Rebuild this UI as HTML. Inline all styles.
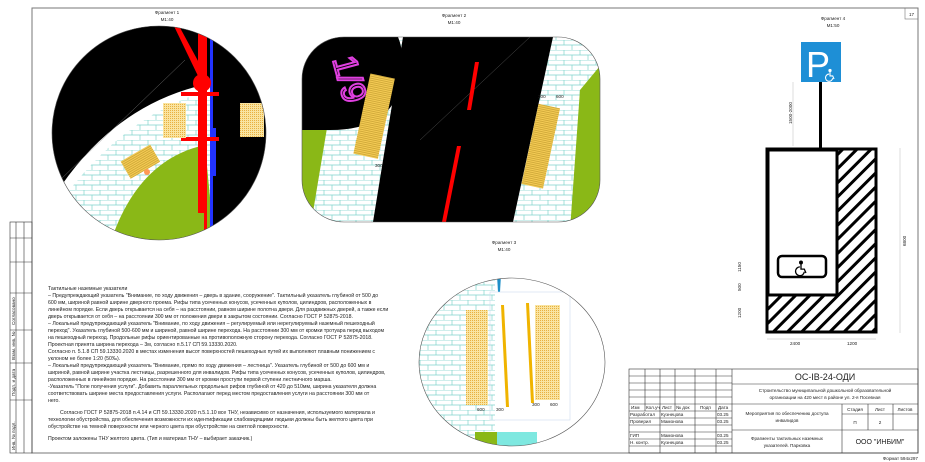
<!DOCTYPE html>
<html><head><meta charset="utf-8"><style>
html,body{margin:0;padding:0;background:#fff;}
svg{display:block;font-family:"Liberation Sans","Noto Sans CJK SC",sans-serif;}
.t{font-size:5.2px;fill:#222;}
.s{font-size:4.6px;fill:#222;}
</style></head><body>
<svg width="925" height="462" viewBox="0 0 925 462" xmlns="http://www.w3.org/2000/svg">
<defs>
<pattern id="tile" width="16" height="10" patternUnits="userSpaceOnUse">
<rect width="16" height="10" fill="#fff"/>
<path d="M0 0H16M0 5H16M4 0V5M12 5V10" stroke="#7fd4cc" stroke-width="0.7"/>
</pattern>
<pattern id="dots" width="2" height="2" patternUnits="userSpaceOnUse">
<rect width="2" height="2" fill="#f9e4a0"/><rect width="1" height="1" fill="#e8b040"/>
</pattern>
<pattern id="ribs" width="3" height="2" patternUnits="userSpaceOnUse">
<rect width="3" height="2" fill="#f5cc55"/><rect y="1.3" width="3" height="0.5" fill="#b08a20"/>
</pattern>
<pattern id="hatch" width="10" height="10" patternUnits="userSpaceOnUse" patternTransform="rotate(45)">
<rect width="10" height="10" fill="#fff"/><rect width="3" height="10" fill="#000"/>
</pattern>
<clipPath id="c1"><circle cx="159" cy="133" r="107"/></clipPath>
<clipPath id="c2"><rect x="302" y="37" width="298" height="185" rx="42"/></clipPath>
<clipPath id="c3"><ellipse cx="512" cy="362" rx="93" ry="84"/></clipPath>
<g id="wc"><circle cx="0" cy="-5" r="1.3"/><path d="M0 -3.5 V1 H3 L4.5 4.5 M-1 -1 A4 4 0 1 0 3 3.5" fill="none" stroke-width="1.2"/></g>
</defs>

<rect x="32" y="8" width="886" height="445" fill="none" stroke="#777" stroke-width="1"/>
<rect x="905" y="8" width="13" height="11" fill="none" stroke="#777" stroke-width="0.6"/>
<text x="911.5" y="16" class="s" text-anchor="middle">17</text>
<g stroke="#333" stroke-width="0.6" fill="none">
<rect x="10" y="222" width="22" height="231"/>
<line x1="16" y1="222" x2="16" y2="453"/><line x1="24" y1="222" x2="24" y2="453"/>
<line x1="10" y1="238" x2="32" y2="238"/><line x1="10" y1="262" x2="32" y2="262"/>
<line x1="10" y1="293" x2="32" y2="293"/><line x1="10" y1="330" x2="32" y2="330"/>
<line x1="10" y1="363" x2="32" y2="363"/><line x1="10" y1="400" x2="32" y2="400"/>
</g>
<g class="s">
<text transform="translate(15,325) rotate(-90)">Согласовано</text>
<text transform="translate(15,360) rotate(-90)">Взам. инв. №</text>
<text transform="translate(15,396) rotate(-90)">Подп. и дата</text>
<text transform="translate(15,450) rotate(-90)">Инв. № подл.</text>
</g>

<!-- Fragment 1 -->
<text x="167" y="14" class="s" text-anchor="middle">Фрагмент 1</text>
<text x="167" y="21" class="s" text-anchor="middle">М1:40</text>
<g clip-path="url(#c1)">
<rect x="50" y="24" width="220" height="220" fill="#000"/>
<path d="M55 195 Q110 110 195 87 L280 87 L280 250 L55 250Z" fill="#fff"/>
<path d="M68 192 Q125 118 200 93 L280 93 L280 250 L68 250Z" fill="url(#tile)"/>
<path d="M108 250 Q135 160 205 145 L215 250Z" fill="#8ab817"/>
<rect x="213" y="24" width="60" height="230" fill="#000"/>
<line x1="60" y1="180" x2="185" y2="60" stroke="#888" stroke-width="0.4"/>
<rect x="198" y="33" width="8" height="180" fill="#f00"/>
<rect x="204" y="33" width="3" height="220" fill="#f00"/>
<rect x="210" y="33" width="3" height="220" fill="#23f"/>
<rect x="210" y="128" width="6" height="48" fill="#23f"/>
<polygon points="173,24 178,24 204,72 198,76" fill="#f00"/>
<circle cx="202" cy="83" r="9" fill="#f00"/>
<rect x="181" y="92" width="38" height="4" fill="#f00"/>
<rect x="181" y="137" width="38" height="4" fill="#f00"/>
<rect x="163" y="103" width="23" height="35" fill="url(#dots)"/>
<rect x="240" y="103" width="24" height="34" fill="url(#dots)"/>
<g transform="rotate(-30 140 163)"><rect x="124" y="152" width="34" height="20" fill="url(#ribs)"/></g>
<circle cx="147" cy="172" r="3" fill="#f95"/>
</g>
<circle cx="159" cy="133" r="107" fill="none" stroke="#555" stroke-width="0.6"/>

<!-- Fragment 2 -->
<text x="454" y="17" class="s" text-anchor="middle">Фрагмент 2</text>
<text x="454" y="24" class="s" text-anchor="middle">М1:40</text>
<g clip-path="url(#c2)">
<rect x="302" y="37" width="298" height="185" fill="url(#tile)"/>
<polygon points="300,120 330,110 310,230 300,230" fill="#8ab817"/>
<polygon points="580,90 605,60 605,230 570,230" fill="#8ab817"/>
<polygon points="403,37 553,37 513,222 373,222" fill="#000"/>
<path d="M300 37 L398 37 Q408 60 395 100 Q380 130 330 130 L300 130Z" fill="#000"/>
<line x1="420" y1="140" x2="530" y2="37" stroke="#666" stroke-width="0.4"/>
<polygon points="475,62 479,62 471,110 467,110" fill="#f00"/>
<polygon points="457,146 461,146 446,222 442,222" fill="#f00"/>
<g transform="rotate(12 375 100)"><rect x="365" y="75" width="25" height="82" fill="url(#ribs)"/></g>
<g transform="rotate(12 540 145)"><rect x="530" y="105" width="22" height="82" fill="url(#ribs)"/></g>
<text x="318" y="82" font-size="34" fill="none" stroke="#e040e0" stroke-width="2" transform="rotate(75 340 80)">1/9</text>
</g>
<rect x="302" y="37" width="298" height="185" rx="42" fill="none" stroke="#555" stroke-width="0.6"/>
<text x="538" y="98" class="s">300</text><text x="556" y="98" class="s">600</text>
<text x="375" y="167" class="s">300</text>

<!-- Fragment 3 -->
<text x="504" y="244" class="s" text-anchor="middle">Фрагмент 3</text>
<text x="504" y="251" class="s" text-anchor="middle">М1:40</text>
<g clip-path="url(#c3)">
<rect x="415" y="275" width="200" height="180" fill="#fff"/>
<rect x="415" y="275" width="80" height="180" fill="url(#tile)"/>
<polygon points="496,258 502,258 500,292 498,292" fill="#1e8fc8"/>
<rect x="466" y="310" width="22" height="95" fill="url(#dots)"/>
<rect x="535" y="305" width="25" height="95" fill="url(#dots)"/>
<polygon points="501,305 504,305 509,407 506,407" fill="#f0b400"/>
<polygon points="526,303 529,303 534,403 531,403" fill="#f0b400"/>
<rect x="490" y="292" width="80" height="128" fill="none" stroke="#cde" stroke-width="0.6"/>
<rect x="475" y="432" width="27" height="20" fill="#8ab817"/>
<rect x="497" y="432" width="40" height="20" fill="#7ee8e0"/>
</g>
<ellipse cx="512" cy="362" rx="93" ry="84" fill="none" stroke="#555" stroke-width="0.6"/>
<text x="477" y="411" class="s">600</text><text x="496" y="411" class="s">300</text>
<text x="532" y="406" class="s">300</text><text x="550" y="406" class="s">600</text>

<!-- Fragment 4 -->
<text x="833" y="20" class="s" text-anchor="middle">Фрагмент 4</text>
<text x="833" y="27" class="s" text-anchor="middle">М1:50</text>
<rect x="801" y="42" width="40" height="40" fill="#1e8fd6"/>
<text x="806" y="77" font-size="36" fill="#fff">P</text>
<use href="#wc" x="830" y="75" fill="#fff" stroke="#fff" transform="translate(830 75) scale(0.9) translate(-830 -75)"/>
<rect x="819" y="82" width="3" height="66" fill="#000"/>
<line x1="793" y1="82" x2="793" y2="146" stroke="#aaa" stroke-width="0.4"/>
<text transform="translate(792,124) rotate(-90)" class="s">1500-2000</text>
<rect x="767" y="149" width="109" height="183" fill="url(#hatch)" stroke="#000" stroke-width="3"/>
<rect x="768" y="150" width="69" height="145" fill="#fff" stroke="#000" stroke-width="3"/>
<rect x="778" y="256" width="48" height="21" rx="4" fill="#fff" stroke="#000" stroke-width="2.5"/>
<use href="#wc" x="0" y="0" fill="#000" stroke="#000" transform="translate(801 268) scale(1.1)"/>
<line x1="900" y1="148" x2="900" y2="333" stroke="#aaa" stroke-width="0.4"/>
<text transform="translate(906,246) rotate(-90)" class="s">6800</text>
<text transform="translate(741,272) rotate(-90)" class="s">1150</text>
<text transform="translate(741,291) rotate(-90)" class="s">500</text>
<text transform="translate(741,318) rotate(-90)" class="s">1200</text>
<line x1="767" y1="339" x2="876" y2="339" stroke="#aaa" stroke-width="0.4"/>
<text x="790" y="345" class="s">2400</text><text x="847" y="345" class="s">1200</text>

<g class="t">
<text x="48" y="290">Тактильные наземные указатели</text>
<text x="48" y="297">– Предупреждающий указатель "Внимание, по ходу движения – дверь в здание, сооружение". Тактильный указатель глубиной  от 500 до</text>
<text x="48" y="304">600 мм, шириной равной ширине дверного проема.  Рифы типа усеченных конусов, усеченных куполов, цилиндров, расположенных в</text>
<text x="48" y="311">линейном порядке. Если дверь открывается на себя – на расстоянии, равном ширине полотна двери. Для раздвижных дверей, а также если</text>
<text x="48" y="318">дверь открывается от себя – на расстоянии 300 мм  от положения двери в закрытом состоянии.  Согласно ГОСТ Р 52875-2018.</text>
<text x="48" y="325">– Локальный предупреждающий указатель "Внимание, по ходу движения – регулируемый или нерегулируемый наземный пешеходный</text>
<text x="48" y="332">переход". Указатель глубиной 500-600 мм и шириной, равной ширине перехода. На расстоянии 300 мм от кромки тротуара перед выходом</text>
<text x="48" y="339">на пешеходный переход. Продольные рифы ориентированные на противоположную сторону  перехода. Согласно ГОСТ Р 52875-2018.</text>
<text x="48" y="346">Проектная принята ширина перехода – 3м, согласно п.5.17 СП 59.13330.2020.</text>
<text x="48" y="353">Согласно п. 5.1.8 СП 59.13330.2020 в местах изменения высот поверхностей пешеходных путей их выполняют плавным понижением  с</text>
<text x="48" y="360">уклоном не более 1:20 (50‰).</text>
<text x="48" y="367">– Локальный предупреждающий указатель "Внимание, прямо по ходу движения – лестница". Указатель глубиной от 500 до 600 мм и</text>
<text x="48" y="374">шириной, равной ширине участка лестницы, разрешенного для инвалидов. Рифы типа усеченных конусов, усеченных куполов, цилиндров,</text>
<text x="48" y="381">расположенных в линейном порядке. На расстоянии 300 мм от кромки проступи первой ступени лестничного марша.</text>
<text x="48" y="388">-Указатель "Поле получения услуги". Добавить параллельных продольных рифов глубиной от 420 до 510мм, ширина указателя должна</text>
<text x="48" y="395">соответствовать ширине места предоставления услуги. Располагают перед местом предоставления услуги  на расстоянии 300 мм от</text>
<text x="48" y="402">него.</text>
<text x="60" y="414">Согласно ГОСТ Р 52875-2018 п.4.14 и СП 59.13330.2020 п.5.1.10 все ТНУ, независимо от назначения, используемого материала и</text>
<text x="48" y="421">технологии  обустройства, для обеспечения возможности их идентификации слабовидящими людьми должны быть желтого цвета при</text>
<text x="48" y="428">обустройстве на темной поверхности или черного цвета при обустройстве  на светлой поверхности.</text>
<text x="48" y="440">Проектом заложены ТНУ желтого цвета. (Тип и материал ТНУ – выбирает заказчик.)</text>
</g>

<g stroke="#333" stroke-width="0.6" fill="none">
<rect x="629" y="369" width="289" height="84"/>
<line x1="732" y1="369" x2="732" y2="453"/>
<line x1="732" y1="384" x2="918" y2="384"/>
<line x1="629" y1="404" x2="918" y2="404"/>
<line x1="842" y1="404" x2="842" y2="453"/>
<line x1="732" y1="430" x2="918" y2="430"/>
<line x1="842" y1="414" x2="918" y2="414"/>
<line x1="868" y1="404" x2="868" y2="430"/><line x1="893" y1="404" x2="893" y2="430"/>
<line x1="629" y1="376" x2="732" y2="376"/><line x1="629" y1="383" x2="732" y2="383"/>
<line x1="629" y1="390" x2="732" y2="390"/><line x1="629" y1="397" x2="732" y2="397"/>
<line x1="629" y1="411" x2="732" y2="411"/><line x1="629" y1="418" x2="732" y2="418"/>
<line x1="629" y1="425" x2="732" y2="425"/><line x1="629" y1="432" x2="732" y2="432"/>
<line x1="629" y1="439" x2="732" y2="439"/><line x1="629" y1="446" x2="732" y2="446"/>
<line x1="645" y1="369" x2="645" y2="411"/><line x1="660" y1="369" x2="660" y2="453"/>
<line x1="675" y1="369" x2="675" y2="411"/><line x1="695" y1="369" x2="695" y2="453"/>
<line x1="716" y1="369" x2="716" y2="453"/>
</g>
<g class="s">
<text x="631" y="409">Изм</text><text x="646" y="409">Кол.уч</text><text x="662" y="409">Лист</text><text x="676" y="409">№ док</text><text x="700" y="409">Подп</text><text x="718" y="409">Дата</text>
<text x="630" y="416">Разработал</text><text x="661" y="416">Кузнецова</text><text x="717" y="416">03.25</text>
<text x="630" y="423">Проверил</text><text x="661" y="423">Мамонова</text><text x="717" y="423">03.25</text>
<text x="630" y="437">ГИП</text><text x="661" y="437">Мамонова</text><text x="717" y="437">03.25</text>
<text x="630" y="444">Н. контр.</text><text x="661" y="444">Кузнецова</text><text x="717" y="444">03.25</text>
<text x="825" y="392" text-anchor="middle">Строительство муниципальной  дошкольной образовательной</text>
<text x="825" y="399" text-anchor="middle">организации на 420 мест в районе ул. 2-я Посевная</text>
<text x="787" y="415" text-anchor="middle">Мероприятия по обеспечению доступа</text>
<text x="787" y="422" text-anchor="middle">инвалидов</text>
<text x="787" y="440" text-anchor="middle">Фрагменты тактильных наземных</text>
<text x="787" y="447" text-anchor="middle">указателей. Парковка</text>
<text x="855" y="411" text-anchor="middle">Стадия</text><text x="880" y="411" text-anchor="middle">Лист</text><text x="905" y="411" text-anchor="middle">Листов</text>
<text x="855" y="424" text-anchor="middle">П</text><text x="880" y="424" text-anchor="middle">2</text>
<text x="918" y="460" text-anchor="end">Формат  594х297</text>
</g>
<text x="825" y="380" font-size="9" text-anchor="middle" fill="#222">ОС-IB-24-ОДИ</text>
<text x="880" y="444" font-size="7" text-anchor="middle" fill="#222">ООО "ИНБИМ"</text>
</svg>
</body></html>
